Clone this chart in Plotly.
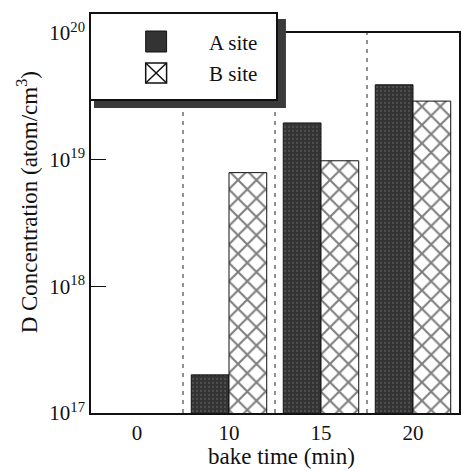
import plotly.graph_objects as go

categories = ["0", "10", "15", "20"]
a_site = [None, 2.0e17, 1.95e19, 3.9e19]
b_site = [None, 7.9e18, 9.8e18, 2.9e19]
tick_vals = [1e17, 1e18, 1e19, 1e20]
tick_text = ["10<sup>17</sup>", "10<sup>18</sup>", "10<sup>19</sup>", "10<sup>20</sup>"]

W, H = 462, 471
ML, MR, MT, MB = 91, 1, 33, 58
PW, PH = W - ML - MR, H - MT - MB

def px(x):
    return (x - ML) / PW

def py(y):
    return (H - MB - y) / PH

FONT = "Liberation Serif"

fig = go.Figure()
fig.add_trace(go.Bar(
    x=categories, y=a_site, name="A site",
    marker=dict(color="#333333", line=dict(color="#111111", width=1),
                pattern=dict(shape=".", fgcolor="#6a6a6a", size=4, solidity=0.25)),
    showlegend=False,
))
fig.add_trace(go.Bar(
    x=categories, y=b_site, name="B site",
    marker=dict(color="white", line=dict(color="#111111", width=1),
                pattern=dict(shape="x", fgcolor="#000000", bgcolor="white", size=13, solidity=0.3)),
    showlegend=False,
))

shapes = []
# separators
for xv in [0.5, 1.5, 2.5]:
    shapes.append(dict(type="line", xref="x", yref="paper", x0=xv, x1=xv, y0=0, y1=1,
                       line=dict(color="#222222", width=1, dash="4px,5px"), layer="below"))
# legend shadow
shapes.append(dict(type="rect", xref="paper", yref="paper",
                   x0=px(94), x1=px(287), y0=py(108), y1=py(19),
                   fillcolor="#3a3a3a", line=dict(width=0), layer="above"))
# legend box
shapes.append(dict(type="rect", xref="paper", yref="paper",
                   x0=px(90), x1=px(278), y0=py(100), y1=py(13),
                   fillcolor="white", line=dict(color="#111111", width=2), layer="above"))
# legend symbol A
shapes.append(dict(type="rect", xref="paper", yref="paper",
                   x0=px(146), x1=px(167), y0=py(52), y1=py(31),
                   fillcolor="#333333", line=dict(color="#111111", width=1), layer="above"))
# legend symbol B
shapes.append(dict(type="rect", xref="paper", yref="paper",
                   x0=px(146), x1=px(167), y0=py(83), y1=py(63),
                   fillcolor="white", line=dict(color="#111111", width=1.5), layer="above"))
shapes.append(dict(type="line", xref="paper", yref="paper",
                   x0=px(146), x1=px(167), y0=py(83), y1=py(63),
                   line=dict(color="#111111", width=1.5), layer="above"))
shapes.append(dict(type="line", xref="paper", yref="paper",
                   x0=px(146), x1=px(167), y0=py(63), y1=py(83),
                   line=dict(color="#111111", width=1.5), layer="above"))

annotations = [
    dict(text="A site", xref="paper", yref="paper", x=px(208), y=py(43),
         xanchor="left", yanchor="middle", showarrow=False,
         font=dict(family=FONT, size=21, color="#111111")),
    dict(text="B site", xref="paper", yref="paper", x=px(208), y=py(74),
         xanchor="left", yanchor="middle", showarrow=False,
         font=dict(family=FONT, size=21, color="#111111")),
    dict(text="D Concentration (atom/cm<sup>3</sup>)", xref="paper", yref="paper",
         x=px(27), y=py(202), xanchor="center", yanchor="middle", textangle=-90,
         showarrow=False, font=dict(family=FONT, size=23, color="#111111")),
    dict(text="bake time (min)", xref="paper", yref="paper",
         x=px(283), y=py(456), xanchor="center", yanchor="middle",
         showarrow=False, font=dict(family=FONT, size=23, color="#111111")),
]

fig.update_layout(
    width=W, height=H,
    margin=dict(l=ML, r=MR, t=MT, b=MB),
    paper_bgcolor="white", plot_bgcolor="white",
    barmode="group", bargap=0.18, bargroupgap=0,
    shapes=shapes, annotations=annotations,
    font=dict(family=FONT, color="#111111"),
)
fig.update_xaxes(
    type="category", categoryorder="array", categoryarray=categories,
    range=[-0.5, 3.5], showgrid=False, showline=True, mirror=True,
    linecolor="#111111", linewidth=1.5, ticks="",
    tickfont=dict(family=FONT, size=21, color="#111111"),
)
fig.update_yaxes(
    type="log", range=[17, 20], tickvals=tick_vals, ticktext=tick_text,
    showgrid=False, showline=True, mirror=True, linecolor="#111111", linewidth=1.5,
    ticks="inside", ticklen=15, tickcolor="#111111", tickwidth=1,
    tickfont=dict(family=FONT, size=21, color="#111111"),
)

fig.write_html("out.html", config={"displayModeBar": False},
               post_script="document.body.style.margin='0';document.body.style.overflow='hidden';")
